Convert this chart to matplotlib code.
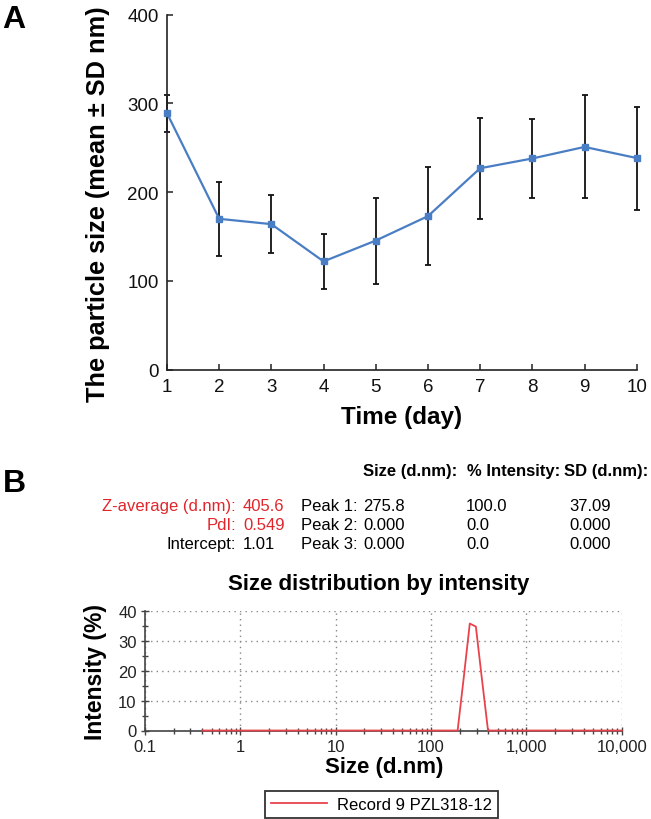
import numpy as np
import matplotlib
matplotlib.use('Agg')
import matplotlib.pyplot as plt
from matplotlib.ticker import FixedLocator, NullFormatter

plt.rcParams['font.family'] = ['Liberation Sans', 'DejaVu Sans']

# panel A: particle size over time
days = [1, 2, 3, 4, 5, 6, 7, 8, 9, 10]
size_mean = [289, 170, 164, 122, 145.5, 173, 227, 238, 251, 238.5]
size_sd = [21, 42, 33, 31, 48.5, 55, 57, 44.5, 58, 58]

# panel B: DLS summary table
header = ['Size (d.nm):', '% Intensity:', 'SD (d.nm):']
left_labels = ['Z-average (d.nm):', 'PdI:', 'Intercept:']
left_values = ['405.6', '0.549', '1.01']
left_colors = ['#e0262c', '#e0262c', 'black']
peak_names = ['Peak 1:', 'Peak 2:', 'Peak 3:']
peak_size = ['275.8', '0.000', '0.000']
peak_intensity = ['100.0', '0.0', '0.0']
peak_sd = ['37.09', '0.000', '0.000']

# panel B: size distribution by intensity
sizes = [0.4, 190.1, 220.2, 255.0, 295.3, 342.0, 396.1, 10000]
intensity = [0, 0, 17.6, 35.8, 34.8, 17.2, 0, 0]
record_name = 'Record 9 PZL318-12'

W, H = 651, 820


def px(x, y):
    return x / W, 1 - y / H


fig = plt.figure(figsize=(W / 100, H / 100), dpi=100)

# ---- A ----
ax1 = fig.add_axes([167 / W, 1 - 370.7 / H, (636.7 - 167) / W, 355 / H])
ax1.errorbar(days, size_mean, yerr=size_sd, fmt='none', ecolor='#111111',
             elinewidth=1.3, capsize=2, capthick=1.3, zorder=2, clip_on=False)
ax1.plot(days, size_mean, color='#4a7ec4', lw=1.6, marker='s', ms=4.5,
         zorder=3, clip_on=False)
ax1.set_xlim(1, 10)
ax1.set_ylim(0, 400)
ax1.set_xticks(days)
ax1.set_yticks([0, 100, 200, 300, 400])
for s in ['top', 'right']:
    ax1.spines[s].set_visible(False)
for s in ['left', 'bottom']:
    ax1.spines[s].set_color('#222222')
    ax1.spines[s].set_linewidth(1.2)
ax1.tick_params(direction='in', length=4, width=1.1, labelsize=13.5, pad=6,
                color='#222222', labelcolor='#111111')
ax1.set_xlabel('Time (day)', fontsize=17.5, fontweight='bold', va='center')
ax1.xaxis.set_label_coords(0.5, -0.133)
ax1.set_ylabel('The particle size (mean \u00b1 SD nm)', fontsize=18.3,
               fontweight='bold', va='center')
ax1.yaxis.set_label_coords(-0.147, 0.47)

fig.text(*px(2, 28), 'A', fontsize=23, fontweight='bold', va='baseline')
fig.text(*px(3, 492), 'B', fontsize=23, fontweight='bold', va='baseline')

# ---- table ----
for x, t in zip([363, 467, 564], header):
    fig.text(*px(x, 476), t, fontsize=12, fontweight='bold', va='baseline')

row_y = [511, 530, 549]
for i, y in enumerate(row_y):
    fig.text(*px(236, y), left_labels[i], fontsize=12, color=left_colors[i],
             ha='right', va='baseline')
    fig.text(*px(243, y), left_values[i], fontsize=12, color=left_colors[i],
             va='baseline')
    fig.text(*px(301, y), peak_names[i], fontsize=12, va='baseline')
    fig.text(*px(363, y), peak_size[i], fontsize=12, va='baseline')
    fig.text(*px(466, y), peak_intensity[i], fontsize=12, va='baseline')
    fig.text(*px(569, y), peak_sd[i], fontsize=12, va='baseline')

# ---- size distribution ----
ax2 = fig.add_axes([145 / W, 1 - 731.5 / H, (621.7 - 145) / W, 119.5 / H])
ax2.set_xscale('log')
ax2.plot(sizes, intensity, color='#e8434c', lw=1.3, zorder=3, clip_on=False,
         label=record_name)
ax2.set_xlim(0.1, 10000)
ax2.set_ylim(0, 40)
ax2.set_xticks([0.1, 1, 10, 100, 1000, 10000])
ax2.set_xticklabels(['0.1', '1', '10', '100', '1,000', '10,000'])
minor_x = [m * 10.0 ** e for e in range(-1, 4) for m in range(2, 10)]
ax2.xaxis.set_minor_locator(FixedLocator(minor_x))
ax2.xaxis.set_minor_formatter(NullFormatter())
ax2.set_yticks([0, 10, 20, 30, 40])
ax2.yaxis.set_minor_locator(FixedLocator([5, 15, 25, 35]))
ax2.grid(True, which='major', ls=(0, (1, 3)), color='#888888', lw=1)
for s in ['top', 'right']:
    ax2.spines[s].set_visible(False)
for s in ['left', 'bottom']:
    ax2.spines[s].set_color('#444444')
    ax2.spines[s].set_linewidth(1.2)
ax2.tick_params(which='both', direction='inout', color='#444444', width=1)
ax2.tick_params(which='major', length=6, labelsize=12, pad=3, labelcolor='#222222')
ax2.tick_params(which='minor', length=4)
ax2.set_title('Size distribution by intensity', fontsize=16, fontweight='bold',
              x=0.491, y=1.184, pad=0)
ax2.set_xlabel('Size (d.nm)', fontsize=16, fontweight='bold', va='center')
ax2.xaxis.set_label_coords(0.501, -0.305)
ax2.set_ylabel('Intensity (%)', fontsize=16.5, fontweight='bold', va='center')
ax2.yaxis.set_label_coords(-0.104, 0.5)

leg = fig.legend(loc='center', bbox_to_anchor=px(381.5, 805.5), fontsize=12,
                 frameon=True, fancybox=False, edgecolor='black',
                 handlelength=3.4, handletextpad=0.6, borderpad=0.35,
                 borderaxespad=0)
leg.get_frame().set_linewidth(1.3)

fig.savefig('out.png', dpi=100)
